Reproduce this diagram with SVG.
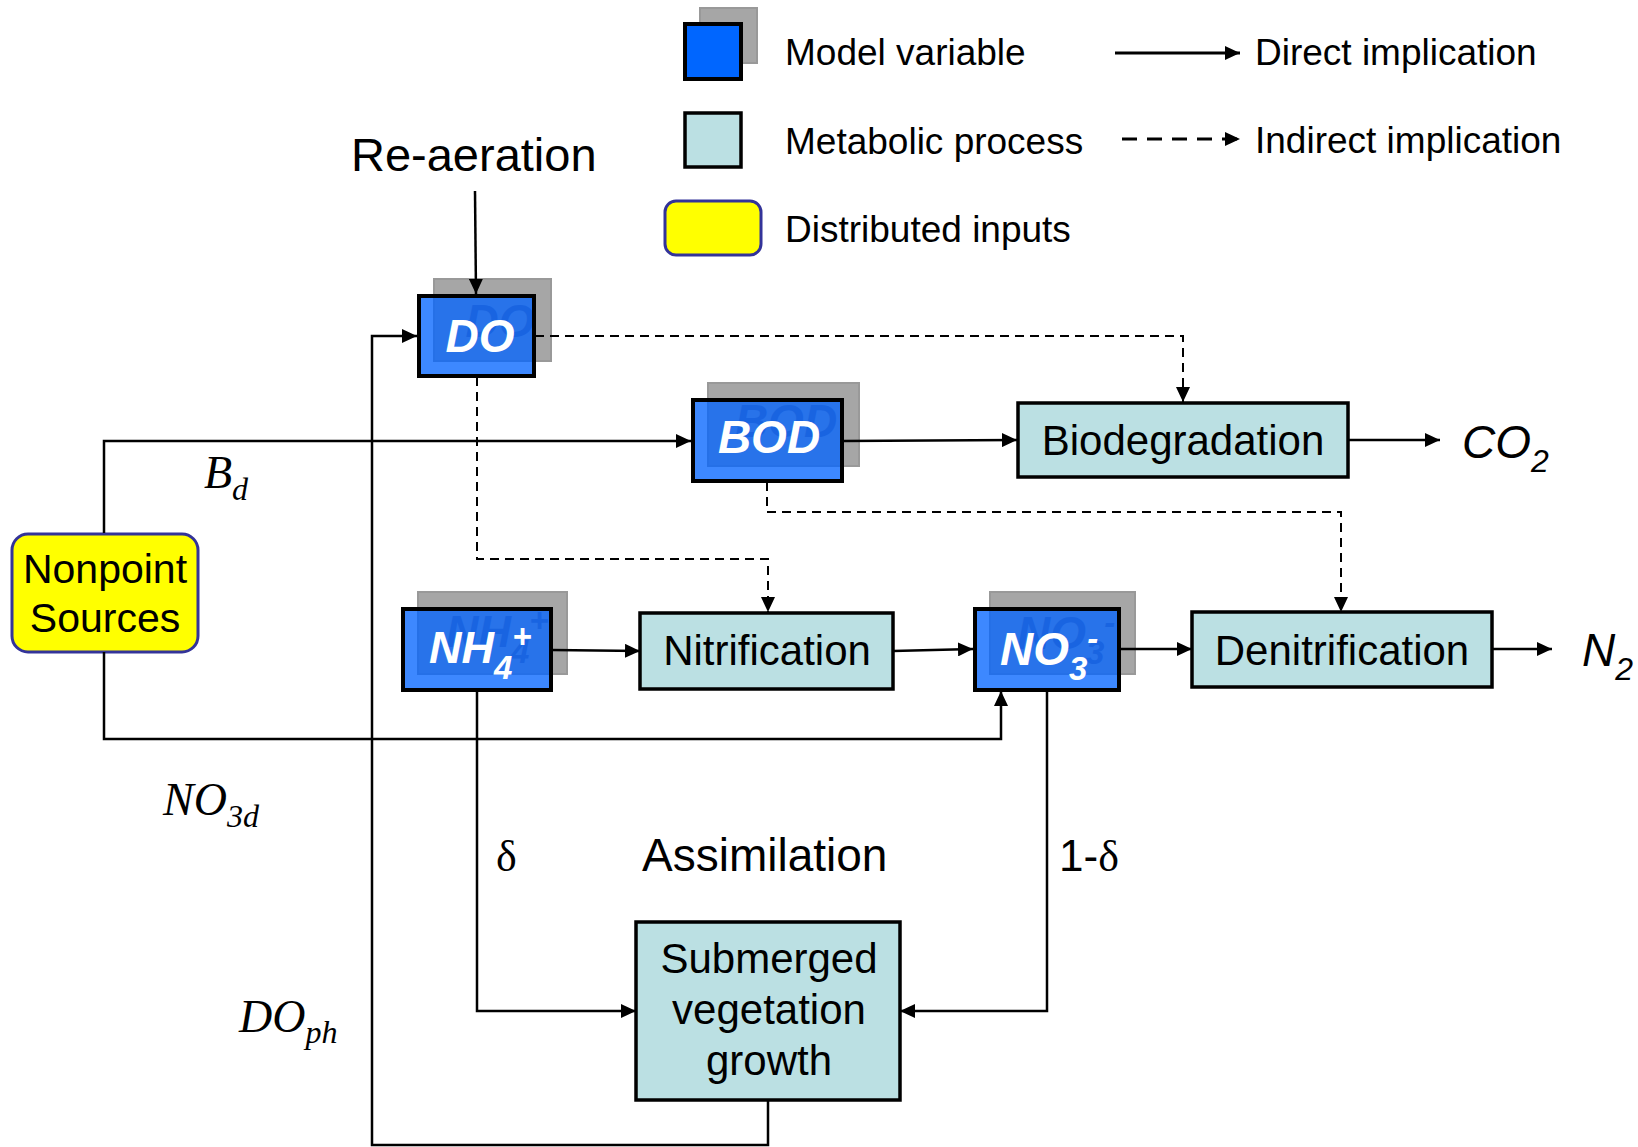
<svg xmlns="http://www.w3.org/2000/svg" width="1638" height="1147" viewBox="0 0 1638 1147">
<defs>
<marker id="ah" markerUnits="userSpaceOnUse" markerWidth="16" markerHeight="14" refX="15" refY="7" orient="auto">
<path d="M0,0 L15,7 L0,14 z" fill="#000"/>
</marker>
<style>
.t{font-family:"Liberation Sans",Arial,sans-serif;fill:#000}
.s{font-family:"Liberation Serif","Times New Roman",serif;font-style:italic;fill:#000}
.c{fill:none;stroke:#000;stroke-width:2.5}
.d{fill:none;stroke:#000;stroke-width:2;stroke-dasharray:9 6}
.dl{fill:none;stroke:#000;stroke-width:3;stroke-dasharray:15 10}
.sh{fill:#a6a6a6;stroke:#999;stroke-width:2}
.gh{font-family:"Liberation Sans",Arial,sans-serif;font-weight:bold;font-style:italic;fill:#6a6a80}
.bl{fill:#0063ff;fill-opacity:0.76;stroke:#000;stroke-width:4}
.bt{font-family:"Liberation Sans",Arial,sans-serif;font-weight:bold;font-style:italic;fill:#fff}
.mp{fill:#bbe0e3;stroke:#000;stroke-width:3.5}
</style>
</defs>
<rect width="1638" height="1147" fill="#fff"/>

<g id="legend">
<rect x="700" y="8" width="57" height="55" class="sh"/>
<rect x="685" y="24" width="56" height="55" fill="#0066ff" stroke="#000" stroke-width="4"/>
<rect x="685" y="113" width="56" height="54" fill="#bbe0e3" stroke="#000" stroke-width="3.5"/>
<rect x="665" y="201" width="96" height="54" rx="11" fill="#ffff00" stroke="#333399" stroke-width="3"/>
<text class="t" x="785" y="65" font-size="37">Model variable</text>
<text class="t" x="785" y="154" font-size="37">Metabolic process</text>
<text class="t" x="785" y="242" font-size="37">Distributed inputs</text>
<line x1="1115" y1="53" x2="1240" y2="53" class="c" style="stroke-width:3" marker-end="url(#ah)"/>
<line x1="1122" y1="139" x2="1240" y2="139" class="dl" marker-end="url(#ah)"/>
<text class="t" x="1255" y="65" font-size="37">Direct implication</text>
<text class="t" x="1255" y="153" font-size="37">Indirect implication</text>
</g>

<g id="node-DO">
<rect x="434" y="279" width="117" height="82" class="sh"/>
<text class="gh" x="500" y="337" font-size="46" text-anchor="middle">DO</text>
<rect x="419" y="296" width="115" height="80" class="bl"/>
<text class="bt" x="480" y="352" font-size="46" text-anchor="middle">DO</text>
</g>

<g id="node-BOD">
<rect x="708" y="383" width="151" height="83" class="sh"/>
<text class="gh" x="786" y="437" font-size="46" text-anchor="middle">BOD</text>
<rect x="693" y="400" width="149" height="81" class="bl"/>
<text class="bt" x="769" y="453" font-size="46" text-anchor="middle">BOD</text>
</g>

<g id="node-NH4">
<rect x="418" y="592" width="149" height="82" class="sh"/>
<text class="gh" x="446" y="647" font-size="45">NH<tspan font-size="33" dy="16">4</tspan><tspan font-size="33" dy="-31">+</tspan></text>
<rect x="403" y="609" width="148" height="81" class="bl"/>
<text class="bt" x="429" y="663" font-size="45">NH<tspan font-size="33" dy="16">4</tspan><tspan font-size="33" dy="-31">+</tspan></text>
</g>

<g id="node-NO3">
<rect x="990" y="592" width="145" height="82" class="sh"/>
<text class="gh" x="1017" y="649" font-size="46">NO<tspan font-size="33" dy="15">3</tspan><tspan font-size="33" dy="-30">-</tspan></text>
<rect x="975" y="609" width="144" height="81" class="bl"/>
<text class="bt" x="1000" y="665" font-size="46">NO<tspan font-size="33" dy="15">3</tspan><tspan font-size="33" dy="-30">-</tspan></text>
</g>

<g id="node-Biodegradation">
<rect x="1018" y="403" width="330" height="74" class="mp"/>
<text class="t" x="1183" y="455" font-size="42" text-anchor="middle">Biodegradation</text>
</g>

<g id="node-Nitrification">
<rect x="640" y="613" width="253" height="76" class="mp"/>
<text class="t" x="767" y="665" font-size="42" text-anchor="middle">Nitrification</text>
</g>

<g id="node-Denitrification">
<rect x="1192" y="612" width="300" height="75" class="mp"/>
<text class="t" x="1342" y="665" font-size="42" text-anchor="middle">Denitrification</text>
</g>

<g id="node-Submerged">
<rect x="636" y="922" width="264" height="178" class="mp"/>
<text class="t" x="769" y="973" font-size="42" text-anchor="middle">Submerged</text>
<text class="t" x="769" y="1024" font-size="42" text-anchor="middle">vegetation</text>
<text class="t" x="769" y="1075" font-size="42" text-anchor="middle">growth</text>
</g>

<g id="node-Nonpoint">
<rect x="12" y="534" width="186" height="118" rx="16" fill="#ffff00" stroke="#333399" stroke-width="3"/>
<text class="t" x="105" y="583" font-size="41" text-anchor="middle">Nonpoint</text>
<text class="t" x="105" y="632" font-size="41" text-anchor="middle">Sources</text>
</g>

<g id="connectors">
<path class="c" d="M475,191 L476,294" marker-end="url(#ah)"/>
<path class="c" d="M104,533 L104,441 L691,441" marker-end="url(#ah)"/>
<path class="c" d="M843,441 L1017,440" marker-end="url(#ah)"/>
<path class="c" d="M1348,440 L1440,440" marker-end="url(#ah)"/>
<path class="d" d="M535,336 L1183,336 L1183,402" marker-end="url(#ah)"/>
<path class="d" d="M477,377 L477,559 L768,559 L768,612" marker-end="url(#ah)"/>
<path class="d" d="M767,482 L767,512 L1341,512 L1341,612" marker-end="url(#ah)"/>
<path class="c" d="M552,650 L640,651" marker-end="url(#ah)"/>
<path class="c" d="M893,651 L973,649" marker-end="url(#ah)"/>
<path class="c" d="M1120,649 L1192,649" marker-end="url(#ah)"/>
<path class="c" d="M1492,649 L1552,649" marker-end="url(#ah)"/>
<path class="c" d="M104,652 L104,739 L1001,739 L1001,691" marker-end="url(#ah)"/>
<path class="c" d="M477,691 L477,1011 L636,1011" marker-end="url(#ah)"/>
<path class="c" d="M1047,691 L1047,1011 L900,1011" marker-end="url(#ah)"/>
<path class="c" d="M768,1100 L768,1145 L372,1145 L372,336 L417,336" marker-end="url(#ah)"/>
</g>

<g id="labels">
<text class="t" x="351" y="171" font-size="47">Re-aeration</text>
<text class="t" x="1462" y="458" font-size="46" font-style="italic">CO<tspan font-size="32" dy="14">2</tspan></text>
<text class="t" x="1582" y="666" font-size="46" font-style="italic">N<tspan font-size="32" dy="14">2</tspan></text>
<text class="s" x="204" y="488" font-size="46">B<tspan font-size="32" dy="12">d</tspan></text>
<text class="s" x="163" y="815" font-size="46">NO<tspan font-size="32" dy="12">3d</tspan></text>
<text class="s" x="239" y="1032" font-size="46">DO<tspan font-size="32" dy="11">ph</tspan></text>
<text x="496" y="871" font-size="44" font-family="'Liberation Serif','Times New Roman',serif">δ</text>
<text class="t" x="642" y="871" font-size="46">Assimilation</text>
<text x="1059" y="871" font-size="44"><tspan font-family="'Liberation Sans',Arial,sans-serif">1-</tspan><tspan font-family="'Liberation Serif','Times New Roman',serif">δ</tspan></text>
</g>
</svg>
